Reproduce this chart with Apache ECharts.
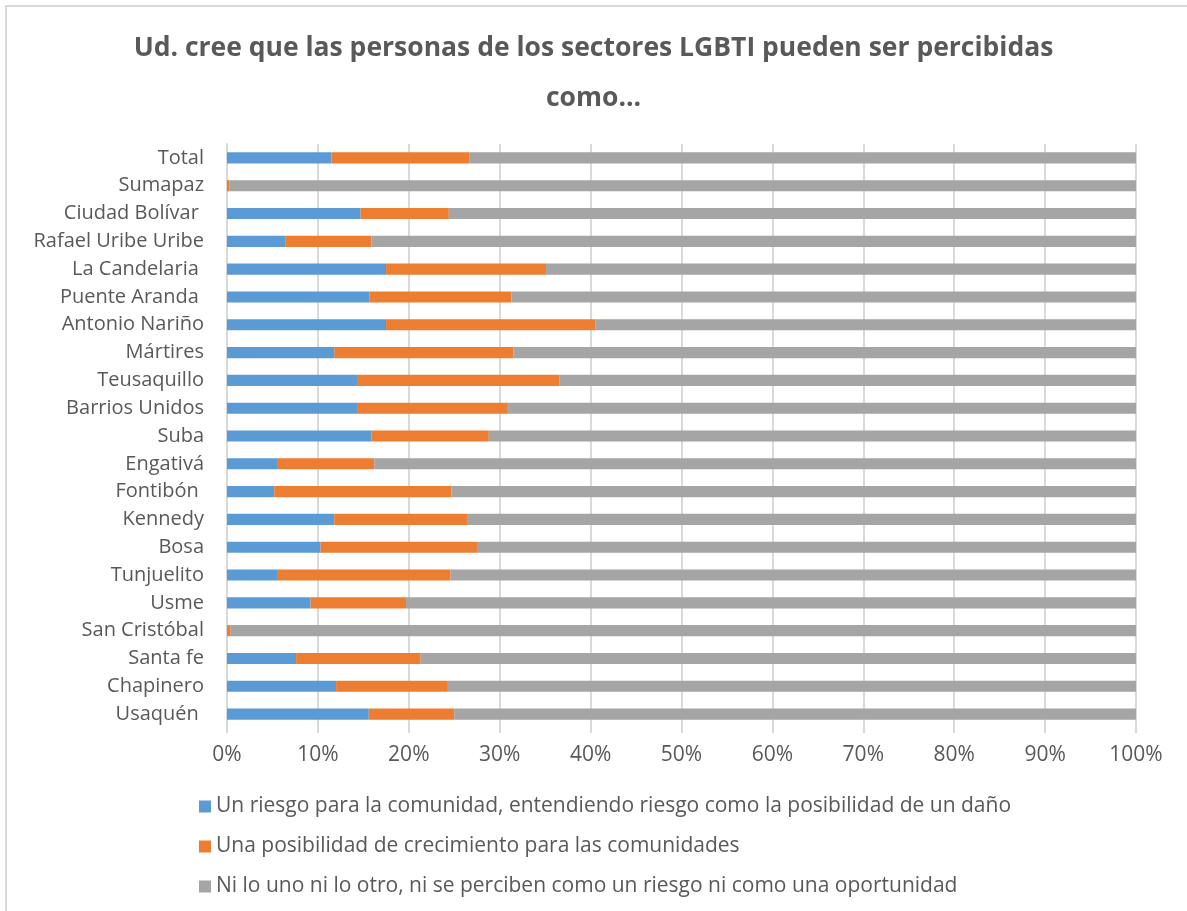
<!DOCTYPE html>
<html>
<head>
<meta charset="utf-8">
<script src="https://cdn.jsdelivr.net/npm/echarts@6/dist/echarts.min.js"></script>
<style>html,body{margin:0;padding:0;background:#fff;}#c{width:1187px;height:911px;}</style>
</head>
<body>
<div id="c"></div>
<script>
const categories = ["Usaquén ", "Chapinero", "Santa fe", "San Cristóbal", "Usme", "Tunjuelito", "Bosa", "Kennedy", "Fontibón ", "Engativá", "Suba", "Barrios Unidos", "Teusaquillo", "Mártires", "Antonio Nariño", "Puente Aranda ", "La Candelaria ", "Rafael Uribe Uribe", "Ciudad Bolívar ", "Sumapaz", "Total"];
const riesgo = [15.6, 12.0, 7.6, 0, 9.2, 5.6, 10.3, 11.8, 5.2, 5.6, 15.9, 14.4, 14.4, 11.8, 17.5, 15.7, 17.5, 6.4, 14.7, 0, 11.5];
const crecimiento = [9.4, 12.3, 13.7, 0.4, 10.5, 19.0, 17.2, 14.6, 19.5, 10.6, 12.9, 16.5, 22.2, 19.7, 23.0, 15.6, 17.6, 9.5, 9.7, 0.25, 15.2];
const ninguno = [75.0, 75.7, 78.7, 99.6, 80.3, 75.4, 72.5, 73.6, 75.3, 83.8, 71.2, 69.1, 63.4, 68.5, 59.5, 68.7, 64.9, 84.1, 75.6, 99.75, 73.3];
const seriesNames = [
  "Un riesgo para la comunidad, entendiendo riesgo como la posibilidad de un daño",
  "Una posibilidad de crecimiento para las comunidades",
  "Ni lo uno ni lo otro, ni se perciben como un riesgo ni como una oportunidad"
];
const titleText = "Ud. cree que las personas de los sectores LGBTI pueden ser percibidas\ncomo...";
const xTicks = {min: 0, max: 100, interval: 10};

const chart = echarts.init(document.getElementById('c'));
const font = "'Open Sans', 'Noto Sans', sans-serif";
const mk = (name, data, color) => ({
  name, type: 'bar', stack: 'a', data, barWidth: '40%',
  itemStyle: {color}, emphasis: {disabled: true}
});
chart.setOption({
  animation: false,
  textStyle: {fontFamily: font},
  graphic: [{
    type: 'rect', shape: {x: 6, y: 6, width: 1200, height: 1000},
    style: {fill: 'none', stroke: '#d9d9d9', lineWidth: 2}, silent: true
  }],
  title: {
    text: titleText, left: 'center', top: 18,
    textStyle: {fontFamily: font, fontSize: 26.5, fontWeight: 'bold', color: '#595959', lineHeight: 50}
  },
  legend: {
    orient: 'vertical', left: 194, top: 791, itemGap: 19,
    itemWidth: 12, itemHeight: 12, icon: 'rect',
    textStyle: {fontFamily: font, fontSize: 21, color: '#595959'},
    data: seriesNames
  },
  grid: {left: 227, right: 51, top: 144, bottom: 183, containLabel: false},
  xAxis: {
    type: 'value', min: xTicks.min, max: xTicks.max, interval: xTicks.interval,
    axisLabel: {formatter: '{value}%', fontSize: 21, color: '#595959', margin: 17, fontFamily: font},
    axisLine: {show: false},
    axisTick: {show: true, length: 5, lineStyle: {color: '#d9d9d9', width: 2}},
    splitLine: {show: true, lineStyle: {color: '#d9d9d9', width: 2}}
  },
  yAxis: {
    type: 'category', data: categories,
    axisLabel: {fontSize: 20, color: '#595959', margin: 23, fontFamily: font},
    axisLine: {show: true, lineStyle: {color: '#d9d9d9', width: 2}},
    axisTick: {show: false}
  },
  series: [
    mk(seriesNames[0], riesgo, '#5B9BD5'),
    mk(seriesNames[1], crecimiento, '#ED7D31'),
    mk(seriesNames[2], ninguno, '#A5A5A5')
  ]
});
</script>
</body>
</html>
